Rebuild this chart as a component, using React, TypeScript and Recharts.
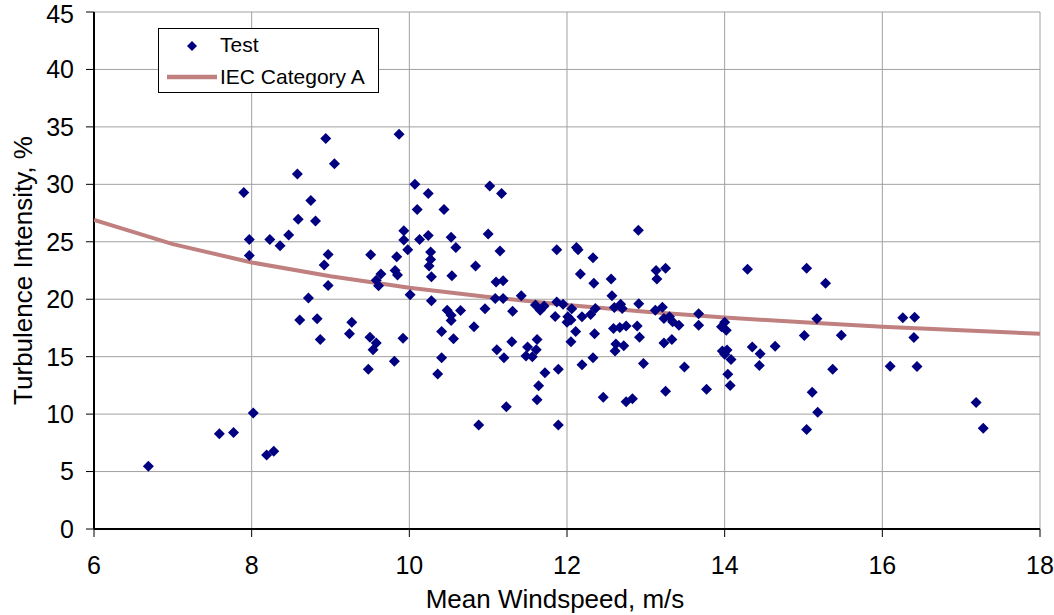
import {
  ComposedChart,
  Scatter,
  XAxis,
  YAxis,
  CartesianGrid,
} from "recharts";

// Test measurements: mean windspeed (m/s) and turbulence intensity (%)
const windspeed = [
  6.69, 7.59, 7.77, 7.9, 7.97, 7.97, 8.02, 8.19, 8.23, 8.28,
  8.36, 8.47, 8.58, 8.59, 8.61, 8.72, 8.75, 8.81, 8.83, 8.87,
  8.92, 8.94, 8.97, 8.97, 9.05, 9.24, 9.27, 9.48, 9.5, 9.51,
  9.54, 9.58, 9.58, 9.61, 9.64, 9.81, 9.82, 9.84, 9.85, 9.87,
  9.92, 9.93, 9.93, 9.98, 10.01, 10.07, 10.1, 10.13, 10.24, 10.24,
  10.25, 10.27, 10.27, 10.28, 10.28, 10.36, 10.41, 10.41, 10.44, 10.48,
  10.53, 10.53, 10.53, 10.54, 10.56, 10.59, 10.65, 10.82, 10.84, 10.88,
  10.96, 11.0, 11.02, 11.09, 11.1, 11.11, 11.15, 11.17, 11.19, 11.19,
  11.2, 11.23, 11.3, 11.31, 11.42, 11.48, 11.5, 11.56, 11.6, 11.61,
  11.62, 11.62, 11.64, 11.66, 11.71, 11.72, 11.85, 11.87, 11.87, 11.89,
  11.89, 11.95, 12.0, 12.01, 12.05, 12.05, 12.06, 12.11, 12.12, 12.14,
  12.17, 12.19, 12.19, 12.3, 12.33, 12.33, 12.34, 12.35, 12.36, 12.46,
  12.56, 12.57, 12.59, 12.6, 12.61, 12.62, 12.67, 12.68, 12.7, 12.72,
  12.75, 12.75, 12.83, 12.89, 12.905, 12.91, 12.92, 12.97, 13.12, 13.13,
  13.14, 13.21, 13.23, 13.23, 13.25, 13.25, 13.3, 13.33, 13.34, 13.42,
  13.49, 13.67, 13.67, 13.77, 13.96, 13.97, 14.0, 14.0, 14.02, 14.03,
  14.04, 14.07, 14.08, 14.29, 14.35, 14.44, 14.45, 14.64, 15.01, 15.04,
  15.04, 15.11, 15.17, 15.18, 15.28, 15.37, 15.48, 16.1, 16.26, 16.4,
  16.41, 16.44, 17.19, 17.28,
];

const turbulence = [
  5.46, 8.28, 8.4, 29.3, 25.2, 23.8, 10.1, 6.45, 25.2, 6.77,
  24.65, 25.6, 30.9, 26.95, 18.2, 20.1, 28.6, 26.8, 18.3, 16.5,
  22.97, 34.0, 23.9, 21.2, 31.8, 17.0, 18.0, 13.9, 16.7, 23.87,
  15.6, 16.2, 21.66, 21.17, 22.2, 14.6, 22.5, 23.7, 22.1, 34.35,
  16.6, 25.96, 25.15, 24.3, 20.4, 30.0, 27.8, 25.2, 29.2, 25.55,
  22.9, 24.1, 23.45, 21.95, 19.86, 13.5, 17.2, 14.9, 27.8, 19.05,
  25.4, 18.6, 18.15, 22.04, 16.55, 24.5, 19.02, 17.6, 22.9, 9.06,
  19.16, 25.67, 29.85, 20.07, 21.5, 15.6, 24.2, 29.2, 21.6, 20.07,
  14.9, 10.63, 16.3, 18.96, 20.3, 15.05, 15.85, 15.0, 19.5, 15.6,
  16.5, 11.24, 12.46, 19.05, 19.4, 13.6, 18.5, 24.3, 19.75, 13.9,
  9.06, 19.57, 18.0, 18.47, 18.2, 16.3, 19.16, 17.2, 24.5, 24.3,
  22.2, 18.47, 14.3, 18.67, 23.6, 14.9, 21.4, 17.0, 19.2, 11.47,
  21.75, 20.3, 17.45, 19.28, 15.5, 16.1, 17.54, 19.57, 19.2, 15.94,
  17.66, 11.07, 11.33, 17.68, 26.0, 19.6, 16.7, 14.4, 19.05, 22.5,
  21.75, 19.3, 18.33, 16.2, 22.7, 12.0, 18.47, 16.5, 18.03, 17.74,
  14.1, 18.73, 17.74, 12.17, 17.6, 15.5, 18.0, 15.2, 17.3, 15.57,
  13.48, 12.5, 14.76, 22.6, 15.85, 14.23, 15.25, 15.9, 16.85, 22.7,
  8.66, 11.9, 18.3, 10.17, 21.4, 13.9, 16.87, 14.17, 18.38, 16.67,
  18.44, 14.14, 11.0, 8.77,
];

// IEC Category A reference curve
const iecSpeed = [6, 7, 8, 9, 10, 11, 12, 13, 14, 15, 16, 17, 18];
const iecTurbulence = [26.9, 24.8, 23.2, 22.0, 21.0, 20.2, 19.5, 18.9, 18.4, 18.0, 17.6, 17.3, 17.0];

const xTicks = [6, 8, 10, 12, 14, 16, 18];
const yTicks = [0, 5, 10, 15, 20, 25, 30, 35, 40, 45];

const testData = windspeed.map((x, i) => ({ x, y: turbulence[i] }));
const iecData = iecSpeed.map((x, i) => ({ x, y: iecTurbulence[i] }));

const NAVY = "#000080";
const ROSE = "#c08080";
const FONT = "'Liberation Sans', Arial, sans-serif";

function Diamond({ cx, cy }: any) {
  const r = 5.5;
  return (
    <polygon
      points={`${cx},${cy - r} ${cx + r},${cy} ${cx},${cy + r} ${cx - r},${cy}`}
      fill={NAVY}
    />
  );
}

function LegendBox() {
  return (
    <div
      style={{
        position: "absolute",
        left: 158,
        top: 28,
        width: 221,
        height: 65,
        boxSizing: "border-box",
        border: "1px solid #000",
        background: "#fff",
        fontFamily: FONT,
        fontSize: 21,
        color: "#000",
      }}
    >
      <svg width={60} height={63} style={{ position: "absolute", left: 0, top: 0 }}>
        <polygon points="33,12 38,17 33,22 28,17" fill={NAVY} />
        <line x1={8} y1={48} x2={58} y2={48} stroke={ROSE} strokeWidth={4.5} />
      </svg>
      <span style={{ position: "absolute", left: 61, top: 4, lineHeight: "24px" }}>Test</span>
      <span style={{ position: "absolute", left: 61, top: 36, lineHeight: "24px", whiteSpace: "nowrap" }}>
        IEC Category A
      </span>
    </div>
  );
}

function XTitle({ viewBox }: any) {
  return (
    <text x={555} y={viewBox.y + 79} textAnchor="middle" fontFamily={FONT} fontSize={26} fill="#000">
      Mean Windspeed, m/s
    </text>
  );
}

function YTitle({ viewBox }: any) {
  const cy = viewBox.y + viewBox.height / 2;
  return (
    <text
      x={32}
      y={cy}
      transform={`rotate(-90, 32, ${cy})`}
      textAnchor="middle"
      fontFamily={FONT}
      fontSize={26}
      fill="#000"
    >
      Turbulence Intensity, %
    </text>
  );
}

export default function App() {
  return (
    <div style={{ width: 1054, height: 615, background: "#fff", position: "relative" }}>
      <style>{`body{margin:0;background:#fff}`}</style>
      <ComposedChart
        width={1054}
        height={615}
        margin={{ top: 12, right: 14, bottom: 0, left: 0 }}
      >
        <CartesianGrid stroke="#a0a0a0" strokeWidth={1} vertical horizontal />
        <XAxis
          type="number"
          dataKey="x"
          domain={[6, 18]}
          ticks={xTicks}
          allowDataOverflow
          height={86}
          tickSize={8}
          tickMargin={19}
          axisLine={{ stroke: "#000", strokeWidth: 2 }}
          tickLine={{ stroke: "#000" }}
          tick={{ fill: "#000", fontSize: 25, fontFamily: FONT }}
          label={<XTitle />}
        />
        <YAxis
          type="number"
          dataKey="y"
          domain={[0, 45]}
          ticks={yTicks}
          width={94}
          tickSize={8}
          tickMargin={12}
          axisLine={{ stroke: "#000", strokeWidth: 2 }}
          tickLine={{ stroke: "#000" }}
          tick={{ fill: "#000", fontSize: 25, fontFamily: FONT }}
          label={<YTitle />}
        />
        <Scatter
          name="IEC Category A"
          data={iecData}
          line={{ stroke: ROSE, strokeWidth: 4 }}
          lineType="joint"
          shape={() => <g />}
          isAnimationActive={false}
        />
        <Scatter
          name="Test"
          data={testData}
          shape={<Diamond />}
          isAnimationActive={false}
        />
      </ComposedChart>
      <LegendBox />
    </div>
  );
}
